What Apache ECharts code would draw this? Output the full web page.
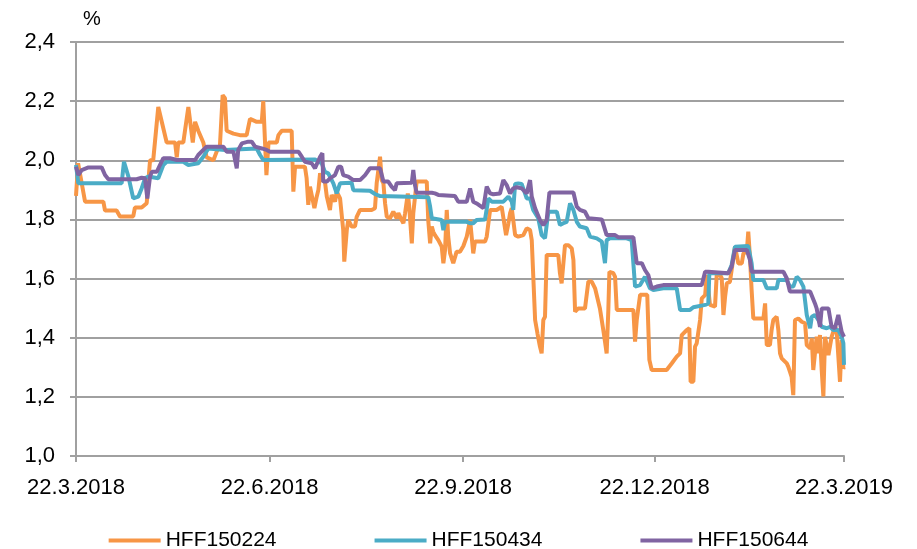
<!DOCTYPE html>
<html><head><meta charset="utf-8">
<script src="https://cdn.jsdelivr.net/npm/echarts@6/dist/echarts.min.js"></script>
<style>html,body{margin:0;padding:0;background:#fff}#c{width:917px;height:549px}</style>
</head><body><div id="c"></div>
<script>
// Tick labels (dates) of the x axis
const tickLabels = ['22.3.2018','22.6.2018','22.9.2018','22.12.2018','22.3.2019'];
const seriesNames = ['HFF150224','HFF150434','HFF150644'];
const yMin = 1.0, yMax = 2.4, yStep = 0.2;

// Days since 22.3.2018 and yields (%) for each bond
const days224 = [0,1,4.3,13,13.8,19.3,20.9,27.2,28,31.2,33.6,34.4,35.2,36.7,39.1,43.1,47.1,47.9,48.6,51,53.4,55.5,56.6,58.1,60.5,62.1,65.3,66.9,68.4,69.7,70.8,71.6,74.8,77.9,81.1,82.7,85.9,88.3,89,90.5,91.5,95.4,96.2,97.8,102.5,103.3,104.1,108.8,109.6,110.4,111.2,112,113.3,114.4,115.2,116,116.8,118.3,119.2,120.7,121.5,123.1,123.9,124.7,125.5,126.3,127,127.5,128.7,129.4,130.2,131,132.6,133.4,135,140.5,142.1,142.9,144.5,145.3,146.1,146.9,147.7,149.2,150.8,152.4,153.2,154.8,155.6,156.4,157.7,158.3,159.6,160.3,161.9,166.7,167.4,168.3,169.1,169.8,170.6,172.2,173,173.8,174.6,175.4,176.2,176.9,177.8,179.3,180.9,182.5,184.1,185.7,187.3,188.1,188.8,189.6,194.4,195.2,196.8,199.9,200.7,202.3,203.1,204.4,205.5,206.3,207.1,208.7,210.2,212.6,214.2,215.8,216.6,218.2,219.3,220.5,221.3,222.1,222.9,223.7,224.5,229.2,230,230.8,232.4,234,235.6,236.4,237.2,238.7,241.9,243.5,245.1,246.7,249,250.6,251.4,252.2,253,253.5,255.4,256.2,257,264.9,265.7,266.5,268.1,271.5,272.5,273.6,274.4,280.7,283.1,285.5,287.1,287.9,290.3,291.5,292.1,293.4,294.2,295,296.6,297.4,299,299.8,300.5,301.3,302.1,303.7,304.5,306.1,306.9,307.7,308.5,309.3,310.8,311.6,313.2,314,314.8,316.4,317.2,318.8,319.5,320.3,321.1,321.9,326.7,327.5,328.3,329.8,330.6,331.4,333,333.8,334.6,335.4,336.2,337.8,338.5,339.3,340.1,340.9,341.7,343.3,344.9,346.5,347.3,348.9,349.7,350.4,351.2,352,352.8,353.6,354.4,355.2,356,356.8,357.6,358.4,359.1,359.9,360.7,361.5,363.1,363.9,364.7,365];
const vals224 = [1.88,1.99,1.86,1.86,1.83,1.83,1.81,1.81,1.84,1.84,1.855,1.93,2.0,2.0,2.18,2.06,2.06,2.01,2.06,2.06,2.18,2.06,2.13,2.10,2.06,2.01,2.0,2.03,2.05,2.22,2.21,2.10,2.09,2.085,2.085,2.14,2.13,2.13,2.20,1.95,2.06,2.06,2.085,2.10,2.10,1.894,1.978,1.978,1.94,1.849,1.911,1.916,1.838,1.877,1.90,1.956,1.933,1.928,1.877,1.832,1.883,1.860,1.894,1.894,1.871,1.866,1.764,1.657,1.764,1.798,1.804,1.776,1.776,1.809,1.832,1.832,1.838,1.922,2.012,1.933,1.922,1.854,1.809,1.804,1.826,1.804,1.821,1.798,1.787,1.821,1.888,1.849,1.719,1.821,1.928,1.928,1.798,1.719,1.776,1.758,1.747,1.730,1.719,1.708,1.652,1.697,1.832,1.742,1.685,1.652,1.691,1.691,1.71,1.742,1.798,1.792,1.685,1.725,1.725,1.742,1.832,1.832,1.838,1.843,1.838,1.747,1.787,1.821,1.838,1.747,1.742,1.747,1.770,1.764,1.730,1.460,1.415,1.370,1.347,1.460,1.471,1.680,1.685,1.680,1.618,1.584,1.713,1.713,1.702,1.663,1.488,1.499,1.499,1.590,1.590,1.567,1.499,1.426,1.387,1.347,1.494,1.623,1.618,1.606,1.494,1.494,1.387,1.460,1.545,1.545,1.325,1.291,1.285,1.291,1.313,1.336,1.347,1.409,1.426,1.432,1.251,1.251,1.370,1.381,1.460,1.533,1.544,1.612,1.612,1.511,1.505,1.505,1.612,1.612,1.601,1.477,1.539,1.584,1.589,1.629,1.708,1.713,1.651,1.651,1.685,1.691,1.759,1.674,1.561,1.465,1.465,1.516,1.375,1.375,1.426,1.460,1.471,1.426,1.347,1.330,1.325,1.313,1.302,1.285,1.268,1.206,1.460,1.465,1.454,1.449,1.375,1.364,1.398,1.291,1.347,1.403,1.347,1.409,1.291,1.201,1.403,1.409,1.341,1.336,1.403,1.420,1.437,1.426,1.251,1.392,1.296,1.30];

const days434 = [0,1.1,21.7,22.8,24.9,27.2,29.6,31.2,32.8,34.4,39.1,41.5,43.1,51,53.4,58.1,60.5,62.9,70.8,85.9,87.5,89,113.6,115.2,116.8,118.3,119.9,120.7,122.3,123.9,124.7,125.5,126.3,131,131.8,132.6,139.7,142.1,144.5,145.3,167.4,168.3,169.1,173.8,174.6,175.4,185.7,187.3,188.8,190.4,194.4,196,197.6,203.1,205.5,207.1,207.8,208.7,210.2,211.8,213.4,214.2,215.8,217.3,219.7,221.3,222.9,224.5,228.5,230,231.6,233.2,234.8,235.6,236.4,238,239.5,242.7,244.3,247.5,249.9,251.4,252.2,253.8,261.7,264.1,265.7,268.1,270.4,272.8,274.4,279.1,285.5,287.1,291.8,293.4,299,300.5,301,310,311.6,313.2,314,319.5,321.1,321.9,326.7,328.3,333,333.8,337.8,339.3,340.9,342.5,344.1,345.7,347.3,348.9,349.7,351.2,352.8,354.4,355.2,356.8,358.4,359.9,362.3,363.9,364.7,365];
const vals434 = [1.984,1.922,1.922,1.995,1.945,1.871,1.877,1.905,1.939,1.945,1.939,1.984,1.995,1.995,1.984,1.990,2.012,2.040,2.035,2.040,2.018,2.001,2.003,1.995,1.990,1.961,1.956,1.956,1.922,1.888,1.894,1.922,1.924,1.924,1.899,1.897,1.897,1.886,1.879,1.875,1.875,1.843,1.804,1.798,1.764,1.792,1.792,1.787,1.787,1.798,1.800,1.871,1.860,1.860,1.877,1.860,1.832,1.920,1.922,1.920,1.888,1.871,1.871,1.832,1.804,1.747,1.736,1.826,1.826,1.781,1.787,1.792,1.854,1.854,1.832,1.792,1.776,1.770,1.742,1.736,1.725,1.652,1.730,1.736,1.736,1.730,1.573,1.578,1.606,1.567,1.561,1.567,1.567,1.494,1.494,1.503,1.511,1.516,1.618,1.618,1.646,1.708,1.713,1.710,1.651,1.595,1.595,1.567,1.567,1.595,1.595,1.573,1.573,1.606,1.595,1.573,1.477,1.432,1.471,1.477,1.460,1.437,1.432,1.432,1.437,1.426,1.426,1.403,1.381,1.308];

const days644 = [0,1.1,2.7,5.9,12.2,13.8,15.4,28.8,31.2,32.8,33.9,35.2,36,38.4,39.9,41.5,44.7,47.9,56.6,58.1,60.5,62.1,70,71.6,74.8,76.4,77.1,78.8,81.9,83.5,85.1,88.3,90.6,92.2,105.7,107.3,108.8,112,113.6,116,117.1,117.5,119.2,120.7,123.1,124.7,126,127,129.4,131.8,135,137.4,139.7,144.5,146.1,148.4,150,151.6,152.4,159.6,160.3,161.1,161.9,169.1,170.6,172.2,180.1,181.7,185.7,187.3,188.8,190.4,193.6,195.2,196.8,198.3,201.5,203.1,204.7,206.3,207.8,209.5,211.8,214.2,215.8,216.6,218.2,220.5,222.1,223.7,225,236.4,238,239.5,241.9,243.5,249.9,252.2,256.2,257.7,264.9,266.5,268.9,270.4,272,273.6,276,279.1,297.4,299,300.5,301.3,310,311.6,313.2,318.8,320.3,321.1,336.2,337.8,339.3,348.9,351.2,352,353.6,354.4,357.6,359.1,360.7,362.3,363.9,365];
const vals644 = [1.978,1.950,1.967,1.976,1.976,1.950,1.936,1.936,1.941,1.939,1.871,1.945,1.961,1.961,1.984,2.007,2.007,2.001,2.001,2.018,2.035,2.046,2.046,2.029,2.029,1.973,2.035,2.057,2.063,2.063,2.046,2.040,2.035,2.029,2.029,2.012,1.995,1.990,1.973,2.012,2.024,1.928,1.928,1.939,1.950,1.978,1.978,1.950,1.945,1.933,1.933,1.950,1.973,1.973,1.928,1.928,1.911,1.899,1.922,1.924,1.967,1.916,1.890,1.890,1.888,1.883,1.879,1.860,1.860,1.905,1.860,1.854,1.838,1.911,1.888,1.885,1.888,1.933,1.916,1.888,1.905,1.909,1.905,1.888,1.933,1.877,1.838,1.798,1.781,1.798,1.891,1.891,1.843,1.832,1.826,1.804,1.800,1.747,1.747,1.740,1.740,1.652,1.652,1.629,1.612,1.567,1.573,1.578,1.578,1.623,1.623,1.618,1.618,1.640,1.697,1.697,1.663,1.623,1.623,1.601,1.556,1.556,1.516,1.499,1.437,1.499,1.499,1.437,1.432,1.477,1.420,1.403];

const colors = ['#F79646','#4BACC6','#8064A2'];

function parseDMY(s){const p=s.split('.').map(Number);return Date.UTC(p[2],p[1]-1,p[0]);}
const tickVals = tickLabels.map(parseDMY);
const t0 = tickVals[0];
const DAY = 86400000;
function pts(days, vals){return days.map((d,i)=>[t0 + d*DAY, vals[i]]);}
function fmtDate(v){const i=tickVals.indexOf(v);return i>=0?tickLabels[i]:'';}

const FONT = "'Liberation Sans', Arial, sans-serif";
const gridColor = '#a0a0a0';

const chart = echarts.init(document.getElementById('c'), null, {renderer:'canvas'});
chart.setOption({
  animation:false,
  backgroundColor:'#fff',
  textStyle:{fontFamily:FONT},
  grid:{left:76,right:73,top:42,bottom:93,containLabel:false},
  legend:{
    data:seriesNames, left:'center', top:525, icon:'rect',
    itemWidth:52, itemHeight:4, itemGap:98,
    textStyle:{fontSize:21,color:'#000',fontFamily:FONT}
  },
  xAxis:{
    type:'value', min:tickVals[0], max:tickVals[tickVals.length-1],
    axisLine:{show:true,onZero:false,lineStyle:{color:gridColor,width:2}},
    axisTick:{show:true,customValues:tickVals,length:6,lineStyle:{color:gridColor,width:2}},
    axisLabel:{customValues:tickVals,formatter:fmtDate,fontSize:22,color:'#000',margin:21,fontFamily:FONT},
    splitLine:{show:false}
  },
  yAxis:{
    type:'value', min:yMin, max:yMax, interval:yStep,
    name:'%', nameLocation:'end', nameGap:13,
    nameTextStyle:{fontSize:20,color:'#000',align:'left',padding:[0,0,0,7],fontFamily:FONT},
    axisLine:{show:true,lineStyle:{color:gridColor,width:2}},
    axisTick:{show:true,length:6,lineStyle:{color:gridColor,width:2}},
    splitLine:{show:true,lineStyle:{color:gridColor,width:2}},
    axisLabel:{formatter:v=>v.toFixed(1).replace('.',','),fontSize:22,color:'#000',margin:21,fontFamily:FONT}
  },
  series:[
    {name:seriesNames[0],type:'line',data:pts(days224,vals224),symbol:'none',lineStyle:{width:4,color:colors[0]},itemStyle:{color:colors[0]}},
    {name:seriesNames[1],type:'line',data:pts(days434,vals434),symbol:'none',lineStyle:{width:4,color:colors[1]},itemStyle:{color:colors[1]}},
    {name:seriesNames[2],type:'line',data:pts(days644,vals644),symbol:'none',lineStyle:{width:4,color:colors[2]},itemStyle:{color:colors[2]}}
  ]
});
</script></body></html>
